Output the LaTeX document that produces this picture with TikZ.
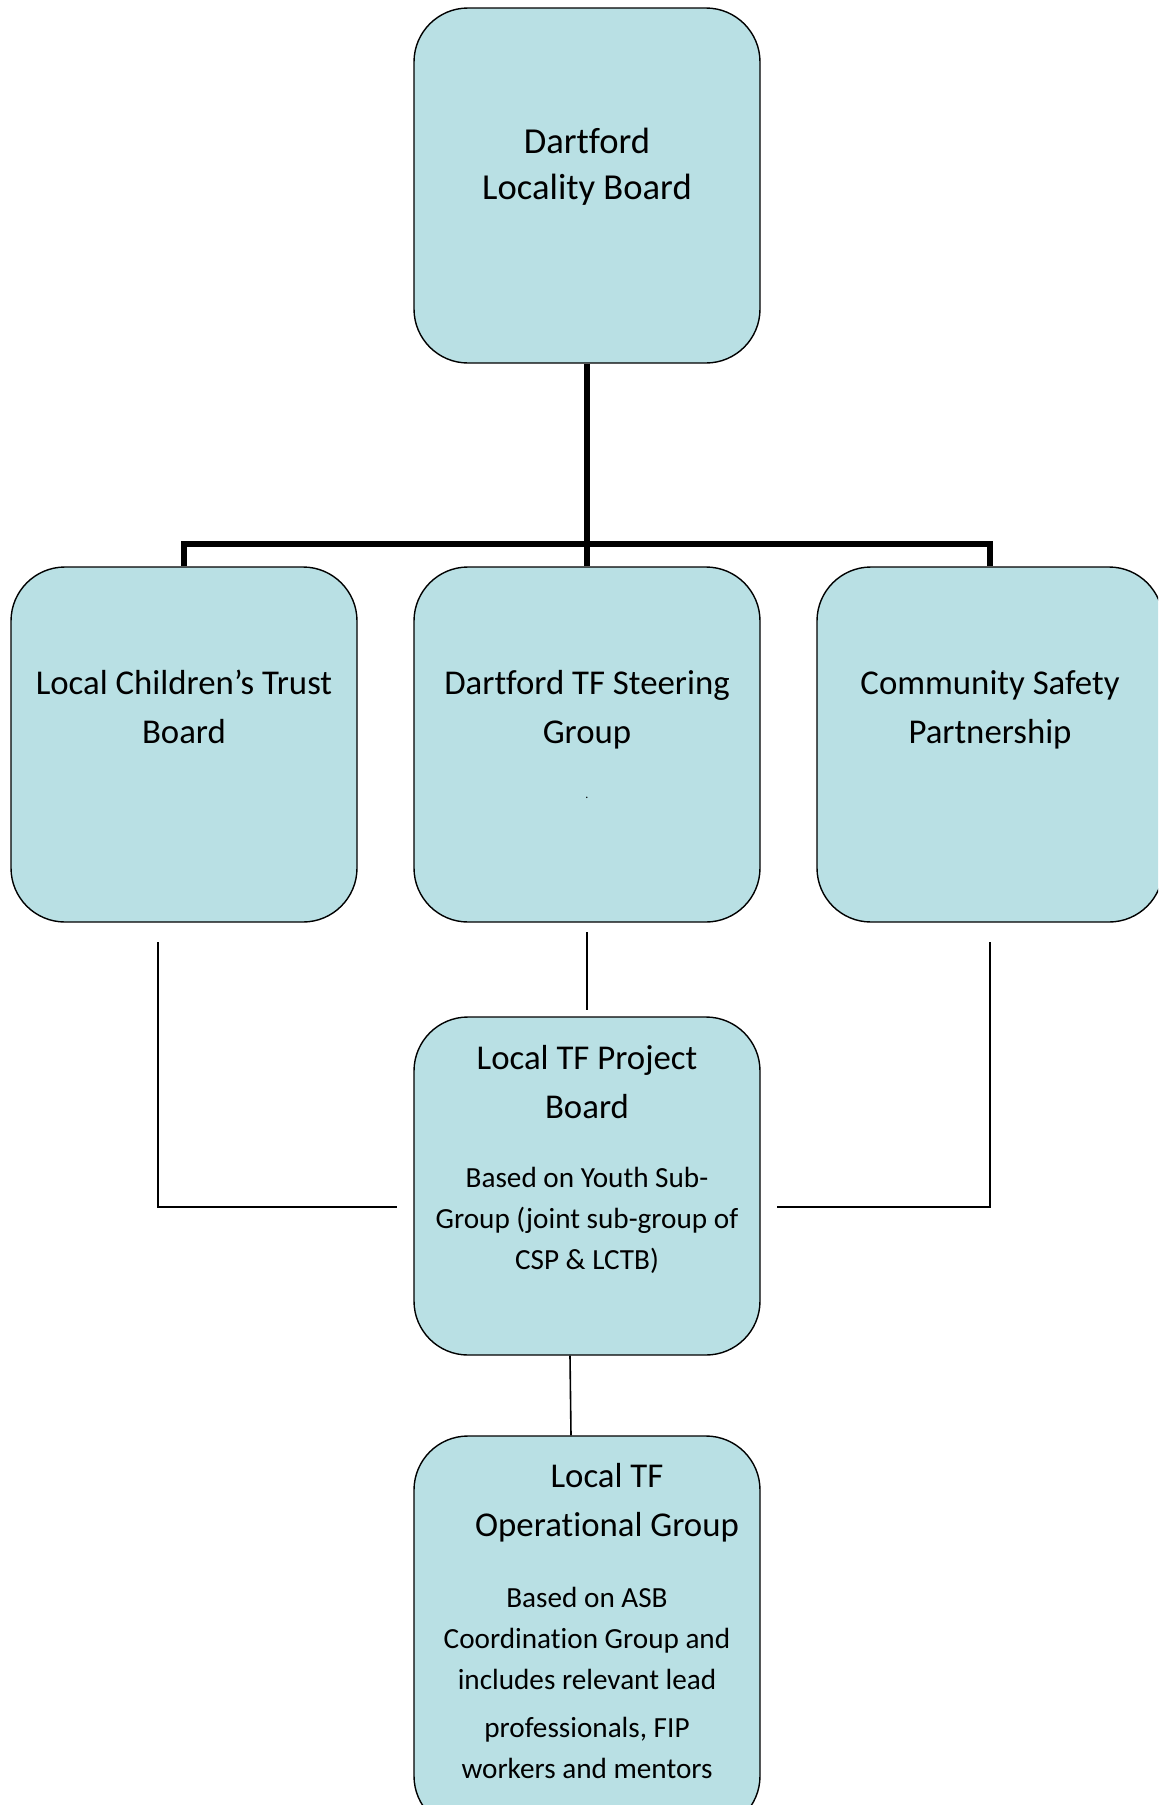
\documentclass[tikz,border=0pt]{standalone}
\usepackage{fontspec}
\setmainfont{Carlito}[Ligatures=NoCommon]
\usetikzlibrary{positioning}
\definecolor{BoardFill}{HTML}{B9E0E4}

\tikzset{
  board/.style={draw=black, fill=BoardFill, line width=0.7pt, rounded corners=27pt,
    minimum width=173pt, minimum height=177.5pt},
  bigtext/.style={align=center, anchor=base, font=\fontsize{18.3}{23}\selectfont},
  boardtext/.style={align=center, anchor=base, font=\fontsize{17.4}{24.5}\selectfont},
  smalltext/.style={align=center, anchor=base, font=\fontsize{14.6}{20.5}\selectfont},
  trunk/.style={line width=3pt},
  link/.style={line width=0.8pt},
}

\begin{document}
\begin{tikzpicture}[x=0.5pt, y=-0.5pt]
  \useasboundingbox (0,0) rectangle (1158,1805);
  \clip (0,0) rectangle (1158,1805);

  % boards
  \node[board] (locality) at (587,185.5) {};
  \node[board] (lctb) at (184,744.5) {};
  \node[board] (steer) at (587,744.5) {};
  \node[board] (csp) at (990,744.5) {};
  \node[board, minimum height=169pt] (project) at (587,1186) {};
  \node[board, minimum height=197pt] (operational) at (587,1633) {};

  % board texts (placed at the baseline of their last line)
  \node[bigtext] (localitytext) at (587,199) {Dartford\\Locality Board};
  \node[boardtext] (lctbtext) at (184,743) {Local Children’s Trust\\Board};
  \node[boardtext] (steertext) at (587,743) {Dartford TF Steering\\Group};
  \node[font=\fontsize{6}{6}\selectfont, anchor=base] (steerdot) at (587,798) {.};
  \node[boardtext] (csptext) at (990,743) {Community Safety\\Partnership};
  \node[boardtext] (projecttext) at (587,1118) {Local TF Project\\Board};
  \node[smalltext] (projectnote) at (587,1269)
    {Based on Youth Sub-\\Group (joint sub-group of\\CSP \& LCTB)};
  \node[boardtext] (operationaltext) at (607,1536) {Local TF\\Operational Group};
  \node[smalltext] (operationalnote) at (587,1778)
    {Based on ASB\\Coordination Group and\\includes relevant lead\\[3.5pt]professionals, FIP\\workers and mentors};

  % thick tree from the locality board
  \coordinate (split) at (587,543.5);
  \draw[trunk] (locality.south) -- (split);
  \draw[trunk] (lctb.north) |- (split) -| (csp.north);
  \draw[trunk] (steer.north) -- (split);

  % thin links to the project board
  \coordinate (lctbfoot) at (158,942);
  \coordinate (projectleft) at (397,1207);
  \coordinate (cspfoot) at (990,942);
  \coordinate (projectright) at (777,1207);
  \coordinate (steerfoot) at (587,932);
  \coordinate (projecthead) at (587,1010);
  \draw[link] (lctbfoot) |- (projectleft);
  \draw[link] (cspfoot) |- (projectright);
  \draw[link] (steerfoot) -- (projecthead);
  \draw[link] ([xshift=-8.5pt]project.south) -- ([xshift=-8pt]operational.north);
\end{tikzpicture}
\end{document}
